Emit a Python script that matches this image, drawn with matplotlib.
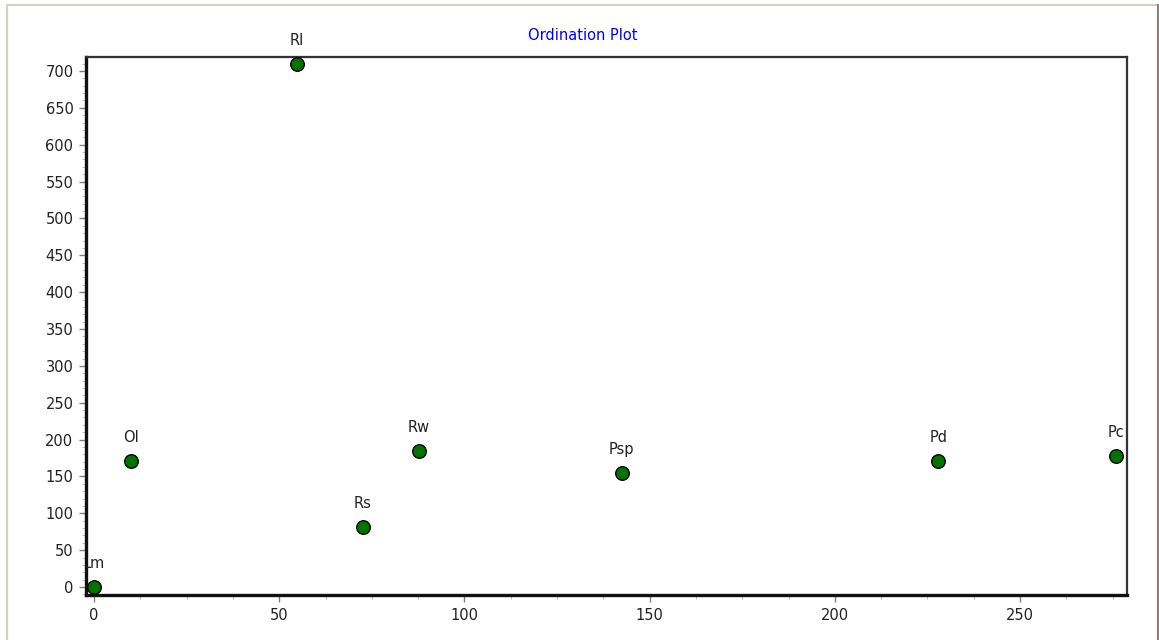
import matplotlib
matplotlib.use("Agg")
import matplotlib.pyplot as plt
from matplotlib.ticker import MultipleLocator
from matplotlib.lines import Line2D
from matplotlib.transforms import Bbox, TransformedBbox

labels = ["Lm", "Ol", "Rl", "Rs", "Rw", "Psp", "Pd", "Pc"]
x_vals = [0.0, 10.0, 54.8, 72.6, 87.7, 142.5, 227.9, 275.9]
y_vals = [0.0, 171.0, 709.6, 81.4, 184.5, 154.7, 171.0, 177.7]

plt.rcParams['font.family'] = ['DejaVu Sans']

W, H = 1159, 640
fig = plt.figure(figsize=(W / 100, H / 100), dpi=100)
fig.patch.set_facecolor('white')

# window-like border lines
fig.add_artist(Line2D([7 / W, 1158 / W], [1 - 5 / H, 1 - 5 / H], transform=fig.transFigure,
                      color='#d4d0c8', lw=1.5))
fig.add_artist(Line2D([7 / W, 7 / W], [0, 1 - 5 / H], transform=fig.transFigure,
                      color='#d4d0c8', lw=1.5))
fig.add_artist(Line2D([1157.5 / W, 1157.5 / W], [0, 1 - 5 / H], transform=fig.transFigure,
                      color='#8a8070', lw=1.5))

left, right, top, bottom = 86, 1127, 57, 595
ax = fig.add_axes([left / W, 1 - bottom / H, (right - left) / W, (bottom - top) / H])

ax.scatter(x_vals, y_vals, s=95, color='#007400', edgecolors='black', linewidths=1.0, zorder=3,
           clip_on=False)
clipbox = TransformedBbox(Bbox([[0, -1], [1, 2]]), ax.transAxes)
for lab, xv, yv in zip(labels, x_vals, y_vals):
    t = ax.annotate(lab, (xv, yv), xytext=(0, 17), textcoords='offset points',
                    ha='center', va='center', fontsize=10.5, color='#222222',
                    annotation_clip=False)
    t.set_clip_on(True)
    t.set_clip_path(None)
    t.set_clip_box(clipbox)

ax.set_xlim(-2.2, 278.9)
ax.set_ylim(-10.8, 719)

ax.xaxis.set_major_locator(MultipleLocator(50))
ax.xaxis.set_minor_locator(MultipleLocator(12.5))
ax.yaxis.set_major_locator(MultipleLocator(50))
ax.yaxis.set_minor_locator(MultipleLocator(10))

ax.tick_params(which='major', direction='out', length=5, width=1, color='#808080',
               labelsize=10.5, labelcolor='#222222', pad=4)
ax.tick_params(which='minor', direction='out', length=3, width=0.8, color='#c0c0c0')

for side in ['left', 'bottom']:
    ax.spines[side].set_linewidth(2.4)
    ax.spines[side].set_color('#111111')
for side in ['top', 'right']:
    ax.spines[side].set_linewidth(1.6)
    ax.spines[side].set_color('#333333')

fig.text(583 / W, 1 - 35 / H, "Ordination Plot", color='#0000ff', fontsize=10.5,
         ha='center', va='center')

fig.savefig("out.png", dpi=100)
